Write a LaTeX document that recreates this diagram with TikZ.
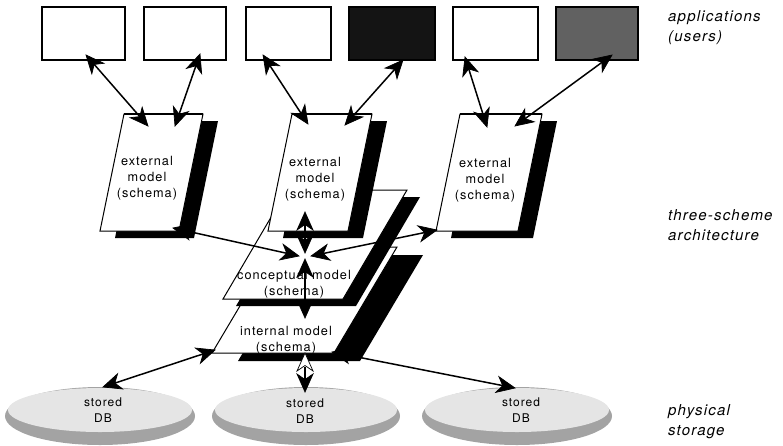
\documentclass[tikz,border=0pt]{standalone}
\usepackage{fontspec}
\newfontfamily\helv[LetterSpace=8]{TeX Gyre Heros}
\usetikzlibrary{calc}

% sheet with drop shadow: x, y (top left), width, height, slant, shadow dx, shadow dy
\newcommand\sheetat[7]{%
  \fill[black] (#1+#6,#2+#7) -- ++(#3,0) -- ++(-#5,#4) -- ++(-#3,0) -- cycle;
  \filldraw[sheetline] (#1,#2) -- ++(#3,0) -- ++(-#5,#4) -- ++(-#3,0) -- cycle;
}
% stealth-like head: [fill], tip point, point toward the tail
\newcommand\tipat[3][black]{%
  \filldraw[fill=#1, draw=black, line width=0.7pt, line join=miter]
    (#2) -- ($(#2)!18pt!(#3)!8pt!90:(#2)$) -- ($(#2)!12.5pt!(#3)$)
    -- ($(#2)!18pt!(#3)!8pt!-90:(#2)$) -- cycle;}
% two-way connector between named points
\newcommand\dlink[2]{%
  \draw[link] (#1) -- (#2);
  \tipat{#1}{#2}\tipat{#2}{#1}}

\begin{document}
\begin{tikzpicture}[x=1pt,y=-1pt,
  appbox/.style={draw=black, line width=1.4pt, minimum height=53pt, inner sep=0pt},
  sheetline/.style={fill=white, draw=black, line width=1pt, line join=miter},
  link/.style={line width=1.5pt, shorten <=9pt, shorten >=9pt},
  modeltext/.style={font=\helv\fontsize{12.7}{16}\selectfont, align=center, inner sep=0pt},
  dbtext/.style={font=\helv\fontsize{12}{16}\selectfont, align=center, inner sep=0pt},
  sidelabel/.style={font=\helv\itshape\fontsize{15}{20}\selectfont, align=left, anchor=west, inner sep=0pt},
  dbdark/.style={fill=black!36},
  dblight/.style={fill=black!10}
]
\useasboundingbox (0,0) rectangle (783,445);

% physical storage
\fill[dbdark] (100,416) ellipse [x radius=95pt, y radius=29pt];
\fill[dblight] (100,410) ellipse [x radius=92pt, y radius=22pt];
\fill[dbdark] (306,416) ellipse [x radius=94pt, y radius=29pt];
\fill[dblight] (306,410) ellipse [x radius=91pt, y radius=22pt];
\fill[dbdark] (517,416) ellipse [x radius=95pt, y radius=29pt];
\fill[dblight] (517,410) ellipse [x radius=92pt, y radius=22pt];
\node[dbtext] (db1) at (103,410) {stored\\DB};
\node[dbtext] (db2) at (305,411) {stored\\DB};
\node[dbtext] (db3) at (521,410) {stored\\DB};

% internal and conceptual schema sheets
\sheetat{275}{247}{122}{106}{63}{26}{8}
\sheetat{287}{190}{120}{109}{64}{13}{7}

% external schema sheets
\sheetat{124}{114}{79}{117}{24}{15}{7}
\sheetat{292}{114}{80}{117}{24}{15}{7}
\sheetat{460}{114}{82}{117}{24}{15}{7}
\draw[line width=2pt] (124,114) -- (203,114);
\draw[line width=2pt] (292,114) -- (372,114);
\draw[line width=2pt] (460,114) -- (542,114);

\node[modeltext] (ext1) at (147,178) {external\\model\\(schema)};
\node[modeltext] (ext2) at (315,179) {external\\model\\(schema)};
\node[modeltext] (ext3) at (485,180) {external\\model\\(schema)};
\node[modeltext] (conc) at (294,284) {conceptual model\\(schema)};
\node[modeltext] (intl) at (286,340) {internal model\\(schema)};

% applications
\node[appbox, minimum width=83pt] (app1) at (83.5,33.5) {};
\node[appbox, minimum width=82pt] (app2) at (185,33.5) {};
\node[appbox, minimum width=85pt] (app3) at (288.5,33.5) {};
\node[appbox, minimum width=86pt, fill=black!92] (app4) at (392,33.5) {};
\node[appbox, minimum width=85pt] (app5) at (495.5,33.5) {};
\node[appbox, minimum width=82pt, fill=black!62] (app6) at (597,33.5) {};

% connector end points
\coordinate (a1) at (86,55);   \coordinate (e1a) at (148,126);
\coordinate (a2) at (200,54);  \coordinate (e1b) at (175,126);
\coordinate (a3) at (263,55);  \coordinate (e2a) at (308,124);
\coordinate (a4) at (403,60);  \coordinate (e2b) at (345,125);
\coordinate (a5) at (465,57);  \coordinate (e3a) at (487,127);
\coordinate (a6) at (612,55);  \coordinate (e3b) at (515,126);

\coordinate (hubW) at (299,256); \coordinate (hubE) at (311,256);
\coordinate (hubN) at (305,253); \coordinate (hubS) at (305,259);
\coordinate (e1c) at (173,228);  \coordinate (e3c) at (437,230);
\coordinate (e2c) at (305,212);  \coordinate (inN) at (305,318);

\coordinate (inSW) at (215,350); \coordinate (dbt1) at (103,387);
\coordinate (inS) at (305,353);  \coordinate (dbt2) at (305,392);
\coordinate (inSE) at (332,352); \coordinate (dbt3) at (515,388);

% application links
\dlink{a1}{e1a}
\dlink{a2}{e1b}
\dlink{a3}{e2a}
\dlink{a4}{e2b}
\dlink{a5}{e3a}
\dlink{a6}{e3b}

% mappings between the schemas
\dlink{e1c}{hubW}
\dlink{e3c}{hubE}
\dlink{e2c}{hubN}
\dlink{inN}{hubS}

% links to the stored databases
\dlink{inSW}{dbt1}
\draw[link, shorten <=14pt] (inS) -- (dbt2);
\tipat[white]{inS}{dbt2}\tipat{dbt2}{inS}
\dlink{inSE}{dbt3}

% level labels
\node[sidelabel] (lblapp) at (668,28) {applications\\(users)};
\node[sidelabel] (lblarch) at (668,225.5) {three-scheme\\architecture};
\node[sidelabel] (lblstore) at (668,422) {physical\\storage};
\end{tikzpicture}
\end{document}
